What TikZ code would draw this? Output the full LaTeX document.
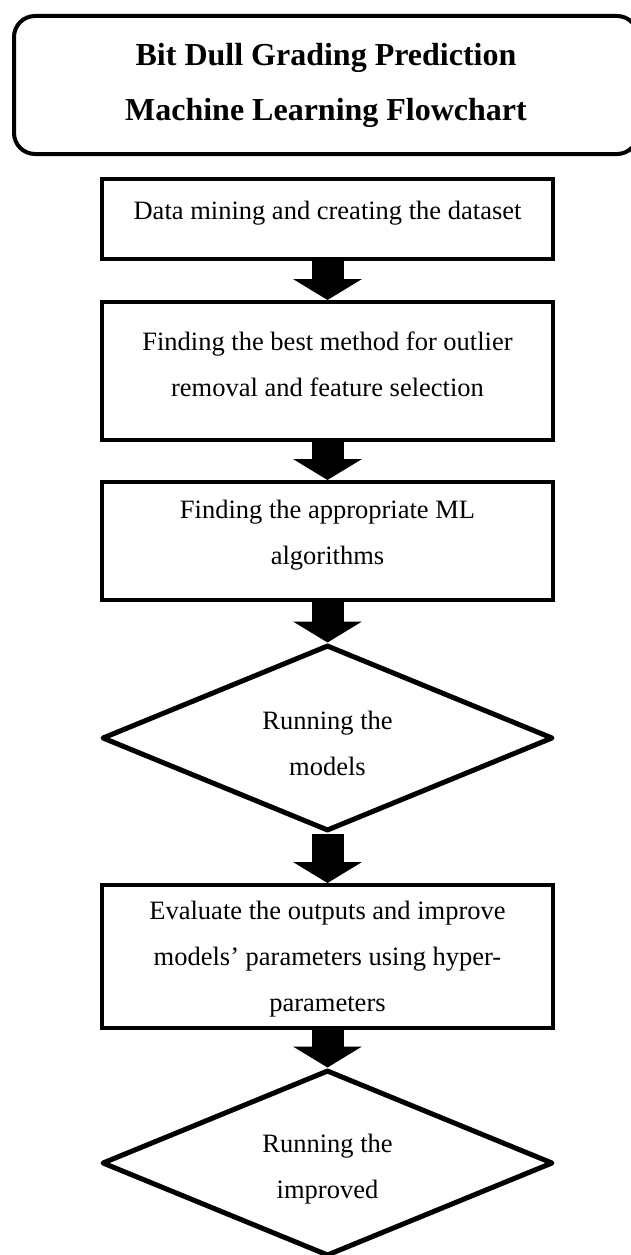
\documentclass[tikz,border=0pt]{standalone}
\usepackage{fontspec}
\setmainfont{Liberation Serif}
\usetikzlibrary{shapes.geometric,arrows.meta,positioning}

\begin{document}
\begin{tikzpicture}[x=1pt,y=-1pt,node distance=150pt,on grid,
    proc/.style={draw,line width=4pt,minimum width=451pt,align=center,font=\fontsize{26.5}{46}\selectfont},
    decide/.style={draw,diamond,aspect=2.4,line width=5pt,line join=round,minimum width=451pt,minimum height=186pt,align=center,text height=76pt,font=\fontsize{26.5}{46}\selectfont},
    flow/.style={line width=32pt,-{Triangle[width=69pt,length=21pt,line width=0pt]}}]
    \useasboundingbox (0,0) rectangle (630,1255);
    \node[draw,line width=4pt,rounded corners=21pt,minimum width=624pt,minimum height=138pt,align=center,font=\fontsize{32}{55}\selectfont\bfseries] (title) at (326,85) {Bit Dull Grading Prediction\\Machine Learning Flowchart};
    \node[proc,minimum height=80pt,text height=6pt] (mining) at (327.5,219) {Data mining and creating the dataset};
    \node[proc,minimum height=138pt,text height=52pt] (outlier) [below=152pt of mining] {Finding the best method for outlier\\removal and feature selection};
    \node[proc,minimum height=118pt,text height=52pt] (algos) [below=170pt of outlier] {Finding the appropriate ML\\algorithms};
    \node[decide] (run) [below=197pt of algos] {Running the\\models};
    \node[proc,minimum height=143pt,text height=116pt] (tune) [below=218.5pt of run] {Evaluate the outputs and improve\\models’ parameters using hyper-\\parameters};
    \node[decide] (runimp) [below=206.5pt of tune] {Running the\\improved};

    \path[flow]
    (mining) edge (outlier)
    (outlier) edge (algos)
    (algos) edge (run)
    (run) edge (tune)
    (tune) edge (runimp);
\end{tikzpicture}
\end{document}
